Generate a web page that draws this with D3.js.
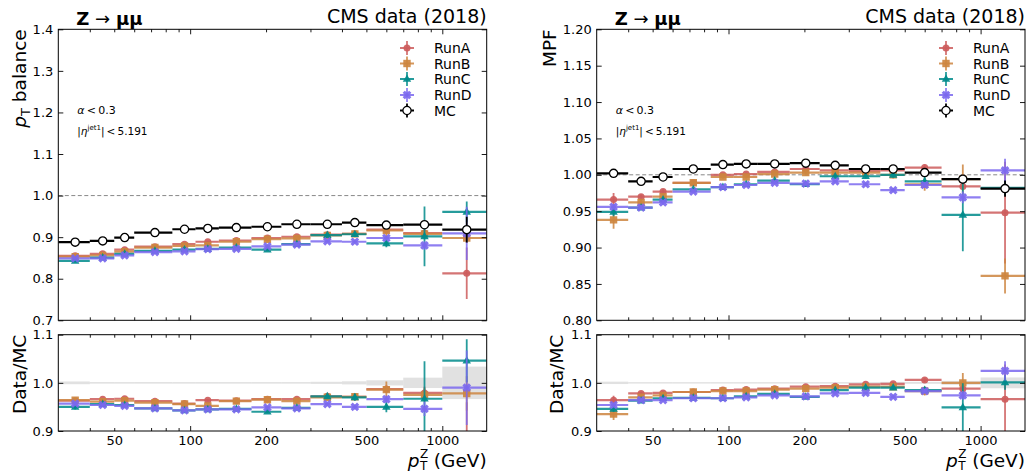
<!DOCTYPE html>
<html>
<head>
<meta charset="utf-8">
<script src="https://cdn.jsdelivr.net/npm/d3@7"></script>
<style>
  body { margin: 0; background: #fff; }
  svg { display: block; font-family: "DejaVu Sans", sans-serif; }
</style>
</head>
<body>
<svg id="fig" width="1027" height="474"></svg>
<script>
// ---- binning and tick labels ----
const binEdges = [30, 40, 50, 60, 85, 105, 130, 175, 230, 300, 400, 500, 700, 1000, 1500];
const xTickValues = [40, 50, 60, 70, 80, 90, 100, 200, 300, 400, 500, 600, 700, 800, 900, 1000];
const xTickLabels = [50, 100, 200, 500, 1000];
const xMajorTicks = [100, 1000];
const balanceTicks = [0.7, 0.8, 0.9, 1.0, 1.1, 1.2, 1.3, 1.4];
const mpfTicks = [0.80, 0.85, 0.90, 0.95, 1.00, 1.05, 1.10, 1.15, 1.20];
const ratioTicks = [0.9, 1.0, 1.1];
const runNames = ["RunA", "RunB", "RunC", "RunD"];

// ---- pT balance ----
const balMC     = [0.888, 0.891, 0.899, 0.911, 0.919, 0.921, 0.923, 0.925, 0.931, 0.931, 0.935, 0.929, 0.930, 0.918];
const balMCErr  = [0.0025, 0.0015, 0.0015, 0.0015, 0.0015, 0.0015, 0.0015, 0.0015, 0.0015, 0.002, 0.003, 0.005, 0.010, 0.031];
const balRunA   = [0.855, 0.860, 0.870, 0.877, 0.883, 0.889, 0.892, 0.898, 0.901, 0.906, 0.908, 0.918, 0.910, 0.813];
const balRunB   = [0.853, 0.856, 0.865, 0.875, 0.879, 0.880, 0.889, 0.895, 0.897, 0.904, 0.908, 0.916, 0.908, 0.898];
const balRunC   = [0.843, 0.851, 0.860, 0.867, 0.870, 0.872, 0.875, 0.870, 0.883, 0.905, 0.907, 0.885, 0.902, 0.961];
const balRunD   = [0.849, 0.849, 0.856, 0.864, 0.866, 0.871, 0.872, 0.878, 0.882, 0.890, 0.889, 0.898, 0.880, 0.909];
const balErrA   = [0.003, 0.002, 0.002, 0.002, 0.002, 0.002, 0.002, 0.002, 0.002, 0.003, 0.004, 0.005, 0.007, 0.062];
const balErrB   = [0.003, 0.002, 0.002, 0.002, 0.002, 0.002, 0.002, 0.002, 0.002, 0.003, 0.004, 0.015, 0.008, 0.012];
const balErrC   = [0.004, 0.002, 0.002, 0.002, 0.002, 0.002, 0.002, 0.002, 0.002, 0.003, 0.006, 0.009, 0.072, 0.025];
const balErrD   = [0.002, 0.002, 0.002, 0.002, 0.002, 0.002, 0.002, 0.002, 0.002, 0.003, 0.004, 0.005, 0.010, 0.064];
const balRatioA = [0.963, 0.966, 0.967, 0.962, 0.957, 0.964, 0.963, 0.966, 0.966, 0.972, 0.971, 0.987, 0.979, 0.886];
const balRatioB = [0.964, 0.961, 0.963, 0.959, 0.956, 0.952, 0.962, 0.965, 0.962, 0.970, 0.971, 0.986, 0.975, 0.978];
const balRatioC = [0.950, 0.956, 0.954, 0.947, 0.943, 0.945, 0.946, 0.940, 0.948, 0.972, 0.970, 0.950, 0.967, 1.046];
const balRatioD = [0.957, 0.954, 0.952, 0.947, 0.943, 0.945, 0.945, 0.949, 0.947, 0.956, 0.950, 0.966, 0.946, 0.990];

// ---- MPF ----
const mpfMC     = [1.002, 0.991, 0.997, 1.008, 1.014, 1.015, 1.015, 1.016, 1.013, 1.008, 1.008, 1.003, 0.994, 0.981];
const mpfMCErr  = [0.0025, 0.0015, 0.0015, 0.0015, 0.0015, 0.0015, 0.0015, 0.0015, 0.0015, 0.0015, 0.002, 0.002, 0.004, 0.011];
const mpfRunA   = [0.966, 0.970, 0.977, 0.989, 1.000, 1.001, 1.004, 1.008, 1.006, 1.005, 1.006, 1.010, 0.984, 0.948];
const mpfRunB   = [0.938, 0.962, 0.970, 0.989, 0.997, 0.997, 1.001, 1.003, 1.003, 1.003, 1.000, 0.987, 0.994, 0.861];
const mpfRunC   = [0.949, 0.955, 0.966, 0.980, 0.983, 0.987, 0.992, 0.987, 0.998, 0.998, 1.000, 0.991, 0.945, 0.982];
const mpfRunD   = [0.956, 0.955, 0.962, 0.977, 0.983, 0.986, 0.989, 0.988, 0.991, 0.987, 0.979, 0.986, 0.969, 1.006];
const mpfErrA   = [0.009, 0.003, 0.003, 0.002, 0.002, 0.002, 0.002, 0.002, 0.002, 0.002, 0.003, 0.004, 0.005, 0.070];
const mpfErrB   = [0.012, 0.004, 0.003, 0.002, 0.002, 0.002, 0.002, 0.002, 0.002, 0.003, 0.005, 0.009, 0.020, 0.024];
const mpfErrC   = [0.006, 0.003, 0.003, 0.002, 0.002, 0.002, 0.002, 0.002, 0.002, 0.003, 0.004, 0.006, 0.050, 0.010];
const mpfErrD   = [0.004, 0.003, 0.003, 0.002, 0.002, 0.002, 0.002, 0.002, 0.002, 0.002, 0.003, 0.004, 0.008, 0.016];
const mpfRatioA = [0.964, 0.978, 0.979, 0.981, 0.985, 0.986, 0.988, 0.992, 0.993, 0.997, 0.998, 1.006, 0.988, 0.966];
const mpfRatioB = [0.935, 0.970, 0.974, 0.981, 0.983, 0.983, 0.986, 0.988, 0.990, 0.992, 0.992, 0.983, 1.000, 0.870];
const mpfRatioC = [0.946, 0.963, 0.968, 0.969, 0.968, 0.972, 0.977, 0.971, 0.985, 0.990, 0.990, 0.985, 0.949, 1.001];
const mpfRatioD = [0.954, 0.964, 0.964, 0.968, 0.968, 0.970, 0.974, 0.972, 0.978, 0.979, 0.971, 0.983, 0.974, 1.025];

// ---- styling ----
const runColors = ["#cd5c5c", "#cd853f", "#008b8b", "#7b68ee"];
const runMarkers = ["circle", "square", "triangle", "x"];
const TOP_Y0 = 29.3, TOP_Y1 = 320.3, RAT_Y0 = 334.7, RAT_Y1 = 431;

const svg = d3.select("#fig");

function markerPath(kind) {
  if (kind === "circle") { const r = 3.5; return `M${r},0A${r},${r} 0 1,1 ${-r},0A${r},${r} 0 1,1 ${r},0Z`; }
  if (kind === "square") { const s = 3.7; return `M${-s},${-s}H${s}V${s}H${-s}Z`; }
  if (kind === "triangle") { const h = 4.6; return `M0,${-h}L${h * 0.92},${h * 0.62}L${-h * 0.92},${h * 0.62}Z`; }
  if (kind === "mc") { const r = 4.1; return `M${r},0A${r},${r} 0 1,1 ${-r},0A${r},${r} 0 1,1 ${r},0Z`; }
  // filled "X"
  const a = 4.6, t = 1.55, c = Math.SQRT1_2;
  const pts = [[t, a], [t, t], [a, t], [a, -t], [t, -t], [t, -a], [-t, -a], [-t, -t], [-a, -t], [-a, t], [-t, t], [-t, a]]
    .map(([px, py]) => [((px - py) * c).toFixed(2), ((px + py) * c).toFixed(2)]);
  return "M" + pts.map(p => p.join(",")).join("L") + "Z";
}

function drawSeries(layer, x, y, values, errors, color, kind) {
  const isMC = kind === "mc";
  const bins = values.map((v, i) => ({
    v, e: errors[i], lo: binEdges[i], hi: binEdges[i + 1], c: (binEdges[i] + binEdges[i + 1]) / 2
  }));
  const g = layer.append("g");
  g.selectAll("line.h").data(bins).join("line").attr("class", "h")
    .attr("x1", d => x(d.lo)).attr("x2", d => x(d.hi))
    .attr("y1", d => y(d.v)).attr("y2", d => y(d.v))
    .attr("stroke", color).attr("stroke-width", 2.2).attr("stroke-opacity", isMC ? 1 : 0.85);
  g.selectAll("line.v").data(bins).join("line").attr("class", "v")
    .attr("x1", d => x(d.c)).attr("x2", d => x(d.c))
    .attr("y1", d => y(d.v - d.e)).attr("y2", d => y(d.v + d.e))
    .attr("stroke", color).attr("stroke-width", 1.8).attr("stroke-opacity", isMC ? 1 : 0.85);
  g.selectAll("path.m").data(bins).join("path").attr("class", "m")
    .attr("transform", d => `translate(${x(d.c)},${y(d.v)})`)
    .attr("d", markerPath(kind))
    .attr("fill", isMC ? "#fff" : color)
    .attr("fill-opacity", isMC ? 1 : 0.92)
    .attr("stroke", isMC ? "#000" : "none")
    .attr("stroke-width", isMC ? 1.3 : 0);
}

function styleAxis(g) {
  g.select(".domain").remove();
  g.selectAll(".tick line").attr("stroke", "#000").attr("stroke-width", 0.9);
  g.selectAll(".tick text").attr("fill", "#000").attr("font-size", 13).attr("font-family", "DejaVu Sans");
}

function xAxes(g, x, y0, y1, labelled) {
  const bottom = d3.axisBottom(x).tickValues(xTickValues).tickSize(-3).tickSizeOuter(0).tickPadding(5)
    .tickFormat(d => labelled && xTickLabels.includes(d) ? d : "");
  const top = d3.axisTop(x).tickValues(xTickValues).tickSize(-3).tickSizeOuter(0).tickFormat("");
  const gb = g.append("g").attr("transform", `translate(0,${y1})`).call(bottom).call(styleAxis);
  const gt = g.append("g").attr("transform", `translate(0,${y0})`).call(top).call(styleAxis);
  gb.selectAll(".tick").filter(d => xMajorTicks.includes(d)).select("line").attr("y2", -5);
  gt.selectAll(".tick").filter(d => xMajorTicks.includes(d)).select("line").attr("y2", 5);
}

function yAxes(g, y, x0, x1, ticks, fmt) {
  g.append("g").attr("transform", `translate(${x0},0)`)
    .call(d3.axisLeft(y).tickValues(ticks).tickSize(-5).tickSizeOuter(0).tickPadding(5).tickFormat(d3.format(fmt)))
    .call(styleAxis);
  g.append("g").attr("transform", `translate(${x1},0)`)
    .call(d3.axisRight(y).tickValues(ticks).tickSize(-5).tickSizeOuter(0).tickFormat(""))
    .call(styleAxis);
}

function drawPanel(cfg) {
  const g = svg.append("g");
  const x = d3.scaleLog().domain([binEdges[0], binEdges[binEdges.length - 1]]).range([cfg.left, cfg.right]);
  const yTop = d3.scaleLinear().domain(cfg.topDomain).range([TOP_Y1, TOP_Y0]);
  const yRat = d3.scaleLinear().domain([0.9, 1.1]).range([RAT_Y1, RAT_Y0]);

  const defs = g.append("defs");
  defs.append("clipPath").attr("id", cfg.id + "-top").append("rect")
    .attr("x", cfg.left).attr("y", TOP_Y0).attr("width", cfg.right - cfg.left).attr("height", TOP_Y1 - TOP_Y0);
  defs.append("clipPath").attr("id", cfg.id + "-rat").append("rect")
    .attr("x", cfg.left).attr("y", RAT_Y0).attr("width", cfg.right - cfg.left).attr("height", RAT_Y1 - RAT_Y0);

  // ---- main panel ----
  const top = g.append("g").attr("clip-path", `url(#${cfg.id}-top)`);
  top.append("line").attr("x1", cfg.left).attr("x2", cfg.right).attr("y1", yTop(1)).attr("y2", yTop(1))
    .attr("stroke", "#888").attr("stroke-width", 1).attr("stroke-dasharray", "4,2.5");
  cfg.runs.forEach((vals, i) => drawSeries(top, x, yTop, vals, cfg.errs[i], runColors[i], runMarkers[i]));
  drawSeries(top, x, yTop, cfg.mc, cfg.mcErr, "#000", "mc");

  // ---- ratio panel ----
  const rat = g.append("g").attr("clip-path", `url(#${cfg.id}-rat)`);
  const band = cfg.mc.map((m, i) => ({ lo: binEdges[i], hi: binEdges[i + 1], e: cfg.mcErr[i] / m }));
  rat.selectAll("rect.band").data(band).join("rect").attr("class", "band")
    .attr("x", d => x(d.lo)).attr("width", d => x(d.hi) - x(d.lo))
    .attr("y", d => yRat(1 + d.e)).attr("height", d => Math.max(yRat(1 - d.e) - yRat(1 + d.e), 1.4))
    .attr("fill", "#c8c8c8").attr("fill-opacity", 0.55);
  cfg.ratios.forEach((r, i) => {
    const rErr = r.map((v, k) => v * Math.hypot(cfg.errs[i][k] / cfg.runs[i][k], cfg.mcErr[k] / cfg.mc[k]));
    drawSeries(rat, x, yRat, r, rErr, runColors[i], runMarkers[i]);
  });

  // ---- frames and axes ----
  [[TOP_Y0, TOP_Y1], [RAT_Y0, RAT_Y1]].forEach(([a, b]) => {
    g.append("rect").attr("x", cfg.left).attr("y", a).attr("width", cfg.right - cfg.left).attr("height", b - a)
      .attr("fill", "none").attr("stroke", "#000").attr("stroke-width", 1);
  });
  xAxes(g, x, TOP_Y0, TOP_Y1, false);
  xAxes(g, x, RAT_Y0, RAT_Y1, true);
  yAxes(g, yTop, cfg.left, cfg.right, cfg.topTicks, cfg.topFmt);
  yAxes(g, yRat, cfg.left, cfg.right, ratioTicks, ".1f");

  // ---- axis titles ----
  const yl = g.append("text").attr("transform", `translate(${cfg.ylabX},${TOP_Y0}) rotate(-90)`)
    .attr("text-anchor", "end").attr("font-size", 18.5).attr("fill", "#000");
  if (cfg.ylabel === "balance") {
    yl.append("tspan").attr("font-style", "italic").text("p");
    yl.append("tspan").attr("font-size", 13).attr("dy", 4).text("T");
    yl.append("tspan").attr("dy", -4).text("\u00a0balance");
  } else {
    yl.text(cfg.ylabel);
  }
  g.append("text").attr("transform", `translate(${cfg.rlabX},${RAT_Y0}) rotate(-90)`)
    .attr("text-anchor", "end").attr("font-size", 18.5).attr("fill", "#000").text("Data/MC");

  // p_T^Z: subscript and superscript stacked on the same column
  const xlab = g.append("g");
  const rest = xlab.append("text").attr("x", cfg.right).attr("y", 467).attr("text-anchor", "end")
    .attr("font-size", 18.5).attr("fill", "#000").text("\u00a0(GeV)");
  const restW = rest.node().getComputedTextLength();
  const scriptX = cfg.right - restW - 8;
  xlab.append("text").attr("x", scriptX).attr("y", 470).attr("font-size", 12).attr("fill", "#000").text("T");
  xlab.append("text").attr("x", scriptX).attr("y", 458).attr("font-size", 12).attr("fill", "#000").text("Z");
  xlab.append("text").attr("x", scriptX - 0.5).attr("y", 467).attr("text-anchor", "end")
    .attr("font-size", 18.5).attr("font-style", "italic").attr("fill", "#000").text("p");

  // ---- titles and selection text ----
  const ttl = g.append("text").attr("x", cfg.left + 18).attr("y", 25).attr("font-size", 18).attr("fill", "#000");
  ttl.append("tspan").attr("font-weight", "bold").text("Z");
  ttl.append("tspan").text("\u00a0\u2192\u00a0");
  ttl.append("tspan").attr("font-weight", "bold").text("\u03bc\u03bc");
  g.append("text").attr("x", cfg.right).attr("y", 23).attr("text-anchor", "end")
    .attr("font-size", 19).attr("fill", "#000").text("CMS data (2018)");

  const a1 = g.append("text").attr("x", cfg.left + 19).attr("y", 114).attr("font-size", 11).attr("fill", "#000");
  a1.append("tspan").attr("font-style", "italic").text("\u03b1");
  a1.append("tspan").text("\u2009<\u20090.3");
  const a2 = g.append("text").attr("x", cfg.left + 19).attr("y", 135).attr("font-size", 10.5).attr("fill", "#000");
  a2.append("tspan").text("|");
  a2.append("tspan").attr("font-style", "italic").text("\u03b7");
  a2.append("tspan").attr("font-size", 7).attr("dy", -5).text("jet1");
  a2.append("tspan").attr("dy", 5).text("|\u2009<\u20095.191");

  // ---- legend ----
  const legRows = [48, 63.5, 79, 95, 110.5];
  const entries = runNames.map((n, i) => ({ n, color: runColors[i], kind: runMarkers[i] }))
    .concat([{ n: "MC", color: "#000", kind: "mc" }]);
  entries.forEach((d, i) => {
    const ly = legRows[i], lx = cfg.legX;
    const op = d.kind === "mc" ? 1 : 0.85;
    g.append("line").attr("x1", lx - 7).attr("x2", lx + 7).attr("y1", ly).attr("y2", ly)
      .attr("stroke", d.color).attr("stroke-width", 2).attr("stroke-opacity", op);
    g.append("line").attr("x1", lx).attr("x2", lx).attr("y1", ly - 7).attr("y2", ly + 7)
      .attr("stroke", d.color).attr("stroke-width", 1.8).attr("stroke-opacity", op);
    g.append("path").attr("transform", `translate(${lx},${ly})`).attr("d", markerPath(d.kind))
      .attr("fill", d.kind === "mc" ? "#fff" : d.color).attr("fill-opacity", d.kind === "mc" ? 1 : 0.92)
      .attr("stroke", d.kind === "mc" ? "#000" : "none").attr("stroke-width", 1.3);
    g.append("text").attr("x", lx + 27).attr("y", ly + 5).attr("font-size", 14).attr("fill", "#000").text(d.n);
  });
}

drawPanel({
  id: "bal", left: 58.3, right: 486.7, topDomain: [0.7, 1.4], topTicks: balanceTicks, topFmt: ".1f",
  ylabel: "balance", ylabX: 26, rlabX: 26, legX: 407,
  mc: balMC, mcErr: balMCErr,
  runs: [balRunA, balRunB, balRunC, balRunD], errs: [balErrA, balErrB, balErrC, balErrD],
  ratios: [balRatioA, balRatioB, balRatioC, balRatioD]
});
drawPanel({
  id: "mpf", left: 596.7, right: 1025, topDomain: [0.8, 1.2], topTicks: mpfTicks, topFmt: ".2f",
  ylabel: "MPF", ylabX: 556, rlabX: 563, legX: 946,
  mc: mpfMC, mcErr: mpfMCErr,
  runs: [mpfRunA, mpfRunB, mpfRunC, mpfRunD], errs: [mpfErrA, mpfErrB, mpfErrC, mpfErrD],
  ratios: [mpfRatioA, mpfRatioB, mpfRatioC, mpfRatioD]
});
</script>
</body>
</html>
